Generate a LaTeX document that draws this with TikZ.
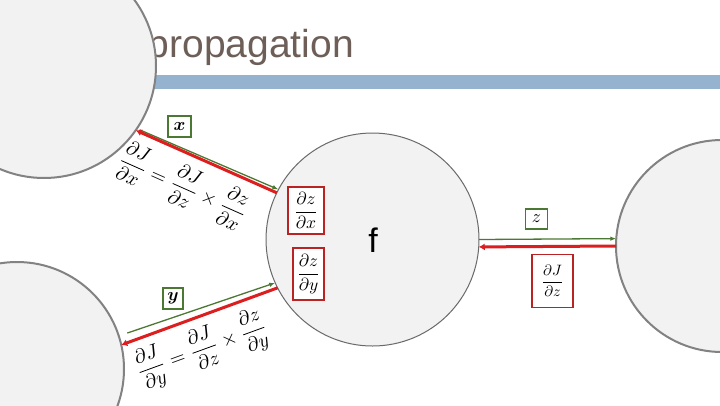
\documentclass[tikz,border=0pt]{standalone}
\usepackage{amsmath}
\usepackage{fontspec}
\newfontfamily\arialf{Liberation Sans}
\usetikzlibrary{arrows.meta}
\definecolor{titlecol}{RGB}{110,94,88}
\definecolor{barcol}{RGB}{149,179,207}
\definecolor{circfill}{RGB}{242,242,242}
\definecolor{circline}{RGB}{130,130,130}
\definecolor{fline}{RGB}{105,105,105}
\definecolor{gline}{RGB}{75,120,50}
\definecolor{rline}{RGB}{220,30,30}
\definecolor{rbox}{RGB}{185,35,35}
\newcommand\mypd[2]{\dfrac{\partial #1}{\partial #2}}
\tikzset{
  bigc/.style={circle, fill=circfill, draw=circline, line width=2pt, inner sep=0pt, outer sep=0pt},
  fc/.style={circle, fill=circfill, draw=fline, line width=1pt, inner sep=0pt, outer sep=0pt},
  garrow/.style={draw=gline, line width=1.3pt, -{Latex[length=6pt,width=4.5pt]}},
  rarrow/.style={draw=rline, line width=3pt, -{Latex[length=6pt,width=7pt]}},
  gbox/.style={draw=gline, line width=1.5pt, fill=white, inner sep=0pt},
  rboxs/.style={draw=rbox, line width=1.8pt, fill=white, inner sep=0pt},
  eqn/.style={inner sep=0pt}
}
\begin{document}
\begin{tikzpicture}[x=1pt,y=-1pt]
\useasboundingbox (0,0) rectangle (720,405);
\clip (0,0) rectangle (720,405);
\fill[white] (0,0) rectangle (720,405);
% title and bar
\node[anchor=base east, inner sep=0pt, text=titlecol, font=\arialf\fontsize{39}{42}\selectfont] (title) at (354,57) {Backpropagation};
\fill[barcol] (140,75) rectangle (720,89);
% circles
\node[bigc, minimum size=224pt] (TL) at (44,66) {};
\node[bigc, minimum size=214pt] (BL) at (17,369) {};
\node[fc, minimum size=213pt] (F) at (372.5,239.5) {};
\node[bigc, minimum size=212pt] (R) at (722,246) {};
\node[font=\arialf\fontsize{34}{36}\selectfont, inner sep=0pt] (ftext) at (373,240) {f};
% arrows top
\draw[garrow, shorten <=3pt] (TL.-34) -- (F.152);
\draw[rarrow] (F.154) -- (TL.-35.5);
% arrows bottom
\draw[garrow, shorten <=9pt] (BL.18) -- (F.204.6);
\draw[rarrow] (F.207) -- (BL.13.4);
% arrows right
\draw[garrow] (F.0) -- (R.176.8);
\draw[rarrow] (R.180.3) -- (F.-4);
% labels
\node[gbox, minimum width=23pt, minimum height=21pt] (xl) at (179.5,126.5) {\scalebox{1.8}{$\boldsymbol{x}$}};
\node[gbox, minimum width=20pt, minimum height=21pt] (yl) at (173,298.5) {\scalebox{1.8}{$\boldsymbol{y}$}};
\node[gbox, minimum width=22pt, minimum height=20pt] (zl) at (536.5,219) {\scalebox{1.8}{$z$}};
\node[rboxs, minimum width=41pt, minimum height=53pt] (djdz) at (552.5,281) {\scalebox{1.5}{$\mypd{J}{z}$}};
\node[rboxs, minimum width=36pt, minimum height=47pt] (dzdx) at (306,210.5) {\scalebox{1.75}{$\mypd{z}{x}$}};
\node[rboxs, minimum width=31pt, minimum height=52pt] (dzdy) at (308.5,274) {\scalebox{1.75}{$\mypd{z}{y}$}};
% equations
\node[eqn, rotate=-24] (eqx) at (183,186) {\scalebox{2}{$\mypd{J}{x} = \mypd{J}{z} \times \mypd{z}{x}$}};
\node[eqn, rotate=20] (eqy) at (202,350) {\scalebox{2}{$\mypd{J}{y} = \mypd{J}{z} \times \mypd{z}{y}$}};
\end{tikzpicture}
\end{document}
